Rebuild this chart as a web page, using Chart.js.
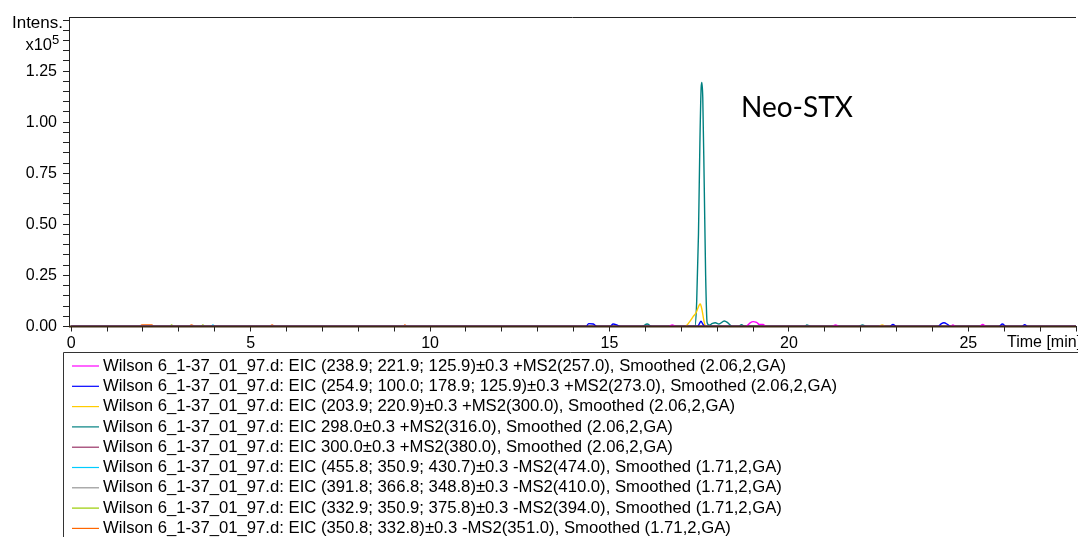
<!DOCTYPE html>
<html>
<head>
<meta charset="utf-8">
<script src="https://cdn.jsdelivr.net/npm/chart.js@4.4.1/dist/chart.umd.min.js"></script>
<style>
    body { margin: 0; background: #fff; }
    canvas { display: block; }
</style>
</head>
<body>
<canvas id="eicChart" width="1078" height="537"></canvas>
<script>
// retention times (min) and intensities (x10^5) for each EIC trace
const magentaT = [0, 16.65, 16.75, 16.85, 18.8, 18.92, 19.0, 19.1, 19.18, 19.28, 19.36, 21.2, 21.3, 21.4, 24.5, 24.57, 24.65, 25.3, 25.4, 25.5, 28];
const magentaV = [0, 0, 0.008, 0, 0, 0.018, 0.024, 0.02, 0.01, 0.01, 0, 0, 0.008, 0, 0, 0.008, 0, 0, 0.01, 0, 0];
const blueT = [0, 14.35, 14.42, 14.55, 14.65, 15.02, 15.1, 15.2, 15.3, 17.45, 17.5, 17.55, 17.6, 17.67, 22.8, 22.9, 23.0, 24.15, 24.25, 24.32, 24.42, 24.5, 25.85, 25.95, 26.05, 26.5, 26.57, 26.65, 28];
const blueV = [0, 0, 0.014, 0.012, 0, 0, 0.012, 0.008, 0, 0, 0.012, 0.026, 0.012, 0, 0, 0.01, 0, 0, 0.014, 0.018, 0.01, 0, 0, 0.012, 0, 0, 0.009, 0, 0];
const yellowT = [0, 17.1, 17.22, 17.33, 17.42, 17.5, 17.53, 17.58, 17.63, 17.68, 22.5, 22.6, 22.7, 28];
const yellowV = [0, 0, 0.02, 0.048, 0.07, 0.105, 0.11, 0.08, 0.03, 0, 0, 0.008, 0, 0];
const tealT = [0, 15.9, 16.05, 16.18, 17.38, 17.43, 17.48, 17.52, 17.555, 17.575, 17.6, 17.64, 17.68, 17.72, 17.78, 17.87, 17.95, 18.05, 18.2, 18.3, 18.42, 18.6, 18.68, 18.76, 20.45, 20.5, 20.6, 21.95, 22.05, 22.15, 28];
const tealV = [0, 0, 0.012, 0, 0, 0.12, 0.45, 0.9, 1.17, 1.195, 1.12, 0.7, 0.25, 0.02, 0.006, 0.015, 0.018, 0.012, 0.027, 0.018, 0, 0, 0.009, 0, 0, 0.008, 0, 0, 0.008, 0, 0];
const maroonT = [0, 28];
const maroonV = [0, 0];
const cyanT = [0, 3.9, 3.95, 4.0, 28];
const cyanV = [0, 0, 0.008, 0, 0];
const grayT = [0, 28];
const grayV = [0, 0];
const oliveT = [0, 2.75, 2.8, 2.85, 3.62, 3.67, 3.72, 28];
const oliveV = [0, 0, 0.007, 0, 0, 0.007, 0, 0];
const orangeT = [0, 1.9, 1.97, 2.25, 2.3, 3.28, 3.35, 3.45, 5.52, 5.6, 5.68, 9.25, 9.3, 9.35, 28];
const orangeV = [0, 0, 0.008, 0.008, 0, 0, 0.008, 0, 0, 0.008, 0, 0, 0.007, 0, 0];

const traceLabels = [
    'Wilson 6_1-37_01_97.d: EIC (238.9; 221.9; 125.9)±0.3 +MS2(257.0), Smoothed (2.06,2,GA)',
    'Wilson 6_1-37_01_97.d: EIC (254.9; 100.0; 178.9; 125.9)±0.3 +MS2(273.0), Smoothed (2.06,2,GA)',
    'Wilson 6_1-37_01_97.d: EIC (203.9; 220.9)±0.3 +MS2(300.0), Smoothed (2.06,2,GA)',
    'Wilson 6_1-37_01_97.d: EIC 298.0±0.3 +MS2(316.0), Smoothed (2.06,2,GA)',
    'Wilson 6_1-37_01_97.d: EIC 300.0±0.3 +MS2(380.0), Smoothed (2.06,2,GA)',
    'Wilson 6_1-37_01_97.d: EIC (455.8; 350.9; 430.7)±0.3 -MS2(474.0), Smoothed (1.71,2,GA)',
    'Wilson 6_1-37_01_97.d: EIC (391.8; 366.8; 348.8)±0.3 -MS2(410.0), Smoothed (1.71,2,GA)',
    'Wilson 6_1-37_01_97.d: EIC (332.9; 350.9; 375.8)±0.3 -MS2(394.0), Smoothed (1.71,2,GA)',
    'Wilson 6_1-37_01_97.d: EIC (350.8; 332.8)±0.3 -MS2(351.0), Smoothed (1.71,2,GA)'
];
const traceColors = ['#ff00ff', '#0000ff', '#ffcc00', '#008080', '#993366', '#00ccff', '#969696', '#99cc00', '#ff6600'];
const traceTimes = [magentaT, blueT, yellowT, tealT, maroonT, cyanT, grayT, oliveT, orangeT];
const traceValues = [magentaV, blueV, yellowV, tealV, maroonV, cyanV, grayV, oliveV, orangeV];

const peakName = 'Neo-STX';
const FONT = '"Liberation Sans", Arial, sans-serif';

const datasets = traceLabels.map((label, i) => ({
    label: label,
    data: traceTimes[i].map((t, j) => ({ x: t, y: traceValues[i][j] })),
    borderColor: traceColors[i],
    borderWidth: 1.4,
    pointRadius: 0,
    cubicInterpolationMode: 'monotone',
    fill: false
}));

// axis captions, baseline, frame and the legend box drawn on top of the chart
const decorations = {
    id: 'decorations',
    afterDatasetsDraw(chart) {
        const ctx = chart.ctx;
        const area = chart.chartArea;
        const y0 = chart.scales.y.getPixelForValue(0);
        ctx.save();
        ctx.strokeStyle = '#3c2814';
        ctx.lineWidth = 2;
        ctx.beginPath();
        ctx.moveTo(area.left, y0);
        ctx.lineTo(area.right, y0);
        ctx.stroke();
        ctx.restore();
    },
    afterDraw(chart) {
        const ctx = chart.ctx;
        const area = chart.chartArea;
        ctx.save();
        // top frame line
        ctx.strokeStyle = '#222';
        ctx.lineWidth = 1;
        ctx.beginPath();
        ctx.moveTo(area.left, area.top + 0.5);
        ctx.lineTo(area.right, area.top + 0.5);
        ctx.stroke();

        ctx.fillStyle = '#000';
        ctx.font = '17px ' + FONT;
        ctx.textAlign = 'right';
        ctx.textBaseline = 'alphabetic';
        ctx.fillText('Intens.', 63, 28);
        ctx.font = '16.5px ' + FONT;
        ctx.fillText('x10', 52, 50);
        ctx.font = '13px ' + FONT;
        ctx.textAlign = 'left';
        ctx.fillText('5', 52, 44);

        ctx.font = '16px ' + FONT;
        ctx.textBaseline = 'middle';
        ctx.fillText('Time [min]', 1007, 343);

        ctx.font = '28px Lato, "Open Sans", sans-serif';
        ctx.textBaseline = 'alphabetic';
        ctx.fillText(peakName, 741, 117);

        // legend
        ctx.strokeStyle = '#333';
        ctx.lineWidth = 1;
        ctx.beginPath();
        ctx.moveTo(63.5, 537);
        ctx.lineTo(63.5, 352.5);
        ctx.lineTo(1078, 352.5);
        ctx.stroke();
        ctx.font = '16.7px ' + FONT;
        ctx.textBaseline = 'middle';
        chart.data.datasets.forEach((ds, i) => {
            const y = 366 + i * 20.3;
            ctx.strokeStyle = ds.borderColor;
            ctx.lineWidth = 1.2;
            ctx.beginPath();
            ctx.moveTo(72, y);
            ctx.lineTo(99, y);
            ctx.stroke();
            ctx.fillStyle = '#000';
            ctx.fillText(ds.label, 103, y);
        });
        ctx.restore();
    }
};

const eicChart = new Chart(document.getElementById('eicChart').getContext('2d'), {
    type: 'line',
    data: { datasets: datasets },
    options: {
        responsive: false,
        animation: false,
        devicePixelRatio: 1,
        layout: { padding: { left: 0, top: 17, right: 0, bottom: 180.5 } },
        plugins: {
            legend: { display: false },
            tooltip: { enabled: false }
        },
        scales: {
            x: {
                type: 'linear',
                min: -0.06,
                max: 28,
                border: { display: true, color: '#222', width: 1 },
                grid: { drawOnChartArea: false, drawTicks: true, tickLength: 5, color: '#222' },
                ticks: {
                    stepSize: 1,
                    includeBounds: false,
                    autoSkip: false,
                    maxRotation: 0,
                    padding: 2,
                    color: '#000',
                    font: { family: FONT, size: 16 },
                    callback: (v) => (Math.abs(v % 5) < 1e-6 ? String(Math.round(v)) : '')
                },
                afterFit: (scale) => { scale.height = 30; }
            },
            y: {
                min: 0,
                max: 1.515,
                border: { display: true, color: '#222', width: 1 },
                grid: { drawOnChartArea: false, drawTicks: true, tickLength: 6, color: '#222' },
                ticks: {
                    stepSize: 0.05,
                    includeBounds: false,
                    autoSkip: false,
                    padding: 6,
                    color: '#000',
                    font: { family: FONT, size: 16 },
                    callback: (v) => {
                        const q = v / 0.25;
                        return v < 1.3 && Math.abs(q - Math.round(q)) < 1e-6 ? v.toFixed(2) : '';
                    }
                },
                afterFit: (scale) => { scale.width = 69; }
            }
        }
    },
    plugins: [decorations]
});
</script>
</body>
</html>
